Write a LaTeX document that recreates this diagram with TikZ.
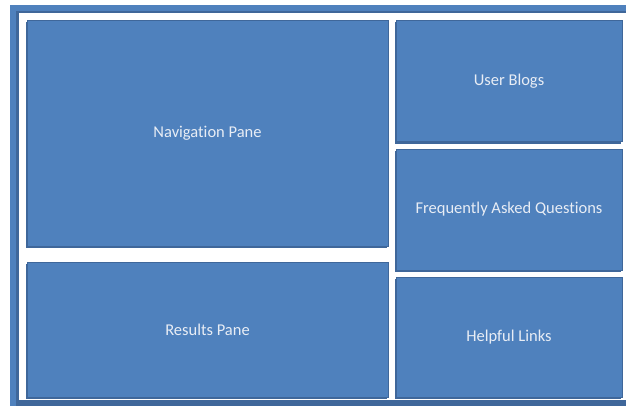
\documentclass[tikz,border=0pt]{standalone}
\usepackage{fontspec}
\setmainfont{Carlito}[Ligatures=NoCommon]
\definecolor{paneblue}{HTML}{4F81BD}
\definecolor{panedark}{HTML}{3F679A}
\definecolor{panetext}{HTML}{E8EDF5}

\def\xunit{1pt}
\def\yunit{1pt}

\begin{document}
\begin{tikzpicture}[x=\xunit, y=\yunit, font=\fontsize{16.5}{19}\selectfont,
  paneshadow/.style={preaction={fill=panedark, transform canvas={shift={(-1.5pt,-1.5pt)}}}},
  pane/.style={fill=paneblue, draw=panedark, line width=1pt, text=panetext,
    inner sep=0pt, paneshadow},
]

% ---- page: 626 x 405 ----
\useasboundingbox (0,0) rectangle (626,405);
\clip (0,0) rectangle (626,405);

% ---- outer frame ----
\fill[paneblue] (10,-5) rectangle (640,400);
\fill[panedark] (16,-5) rectangle (640,394);
\fill[white] (19,5) rectangle (640,392);

% ---- left column ----
\node[pane, minimum width=361, minimum height=225] (nav) at (207.5,271.5) {Navigation Pane};
\node[pane, minimum width=361, minimum height=135] (results) at (207.5,75.5) {Results Pane};

% ---- right column ----
\node[pane, minimum width=226, minimum height=121] (blogs) at (509,323.5) {User Blogs};
\node[pane, minimum width=226, minimum height=121] (faq) at (509,195.5) {Frequently Asked Questions};
\node[pane, minimum width=226, minimum height=120] (links) at (509,68) {Helpful Links};

\end{tikzpicture}
\end{document}
